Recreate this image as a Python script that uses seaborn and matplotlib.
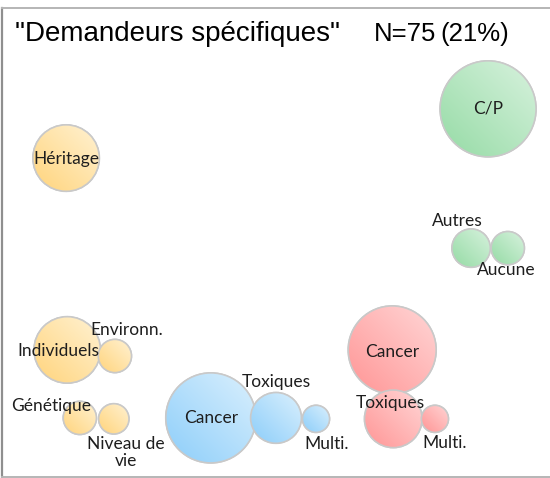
import numpy as np
import pandas as pd
import matplotlib
matplotlib.use("Agg")
import matplotlib.pyplot as plt
import seaborn as sns
from matplotlib.patches import Circle
from matplotlib.transforms import IdentityTransform
from matplotlib.colors import to_rgb

# ---------------- data ----------------
labels = ["C/P", "Autres", "Aucune",
          "Héritage", "Individuels", "Environn.", "Génétique", "Niveau de\nvie",
          "Cancer", "Toxiques", "Multi.",
          "Cancer", "Toxiques", "Multi."]
groups = ["vert"] * 3 + ["orange"] * 5 + ["bleu"] * 3 + ["rouge"] * 3
x_pos = [88.7, 85.6, 92.3,
         11.7, 11.9, 20.6, 14.2, 20.4,
         38.1, 50.0, 57.3,
         71.2, 71.4, 79.0]
y_pos = [78.5, 48.8, 48.8,
         68.0, 27.1, 25.8, 12.6, 12.4,
         12.6, 12.6, 12.4,
         27.1, 12.4, 12.4]
effectifs = [25, 4, 3,
             12, 12, 3, 3, 2.5,
             22, 7, 2,
             21, 9, 2]
title_left = '"Demandeurs spécifiques"'
title_n = "N=75"
title_pct = "(21%)"

# label offsets (pixels, relative to bubble centre)
label_dx = [0, -14, -2, 0, -9, 12, -29, 12, 0, 0, 11, 0, -3, 10]
label_dy = [0, 27, -22, -1, -1, 26, 12, -34, 0, 36, -25, -2, 16, -24]

# ---------------- style ----------------
palette = {"vert": "#b4e6bf", "orange": "#ffe1a3", "bleu": "#b3dffb", "rouge": "#ffb3b3"}
grad_dark = {"vert": "#95dba5", "orange": "#ffd47c", "bleu": "#8dcefa", "rouge": "#ff9595"}
grad_light = {"vert": "#d8f2de", "orange": "#fff2d3", "bleu": "#dbf0fd", "rouge": "#ffd6d6"}

W, H = 550, 478
fig = plt.figure(figsize=(W / 100, H / 100), dpi=100)
ax = fig.add_axes([2 / W, 1 / H, 548 / W, 469 / H])
ax.set_xlim(0, 100)
ax.set_ylim(0, 100)
ax.set_autoscale_on(False)

df = pd.DataFrame({"label": labels, "groupe": groups, "x": x_pos, "y": y_pos, "n": effectifs})

vmax = max(effectifs)
r_max_px = 48.0
smax = (2 * r_max_px * 72 / 100) ** 2

sns.scatterplot(data=df, x="x", y="y", hue="groupe", palette=palette,
                size="n", sizes=(0, smax), size_norm=(0, vmax),
                edgecolor="#c8c8c8", linewidth=1.0, legend=False, ax=ax, zorder=1)

ax.set_xlim(0, 100)
ax.set_ylim(0, 100)

coll = ax.collections[0]
offsets = coll.get_offsets()
sizes = coll.get_sizes()

# gradient fill over each bubble
N = 80
u = np.linspace(0, 1, N)
U, V = np.meshgrid(u, u)
T = (U + V) / 2
inv = ax.transData.inverted()
for i in range(len(df)):
    cx, cy = ax.transData.transform(offsets[i])
    s = sizes[i] if len(sizes) > 1 else sizes[0]
    r = np.sqrt(s) / 2 * fig.dpi / 72
    g = df["groupe"].iloc[i]
    d = np.array(to_rgb(grad_dark[g]))
    l = np.array(to_rgb(grad_light[g]))
    arr = d[None, None, :] * (1 - T[..., None]) + l[None, None, :] * T[..., None]
    (x0, y0) = inv.transform((cx - r, cy - r))
    (x1, y1) = inv.transform((cx + r, cy + r))
    im = ax.imshow(arr, extent=[x0, x1, y0, y1], origin="lower", aspect="auto",
                   interpolation="bilinear", zorder=2 + 2 * i)
    clip = Circle((cx, cy), r, transform=IdentityTransform())
    im.set_clip_path(clip)
    outline = Circle((cx, cy), r, transform=IdentityTransform(), facecolor="none",
                     edgecolor="#c9c9c9", linewidth=1.2, zorder=3 + 2 * i)
    ax.add_artist(outline)

ax.set_xlim(0, 100)
ax.set_ylim(0, 100)

for i, row in df.iterrows():
    ax.annotate(row["label"], xy=(row["x"], row["y"]), xytext=(label_dx[i], label_dy[i]),
                textcoords="offset pixels", ha="center", va="center",
                fontsize=12.5, family="Lato", color="#1e1e1e", zorder=100,
                linespacing=1.1)

ax.set_xticks([])
ax.set_yticks([])
ax.set_xlabel("")
ax.set_ylabel("")
ax.spines["right"].set_visible(False)
ax.spines["left"].set_color("#8f8f8f")
ax.spines["left"].set_linewidth(1.6)
for sp in ("top", "bottom"):
    ax.spines[sp].set_color("#b5b5b5")
    ax.spines[sp].set_linewidth(1.4)

base_y = 1 - 41 / H
fig.text(15 / W, base_y, title_left, fontsize=20, family="Liberation Sans",
         ha="left", va="baseline", color="#000000")
fig.text(374 / W, base_y, title_n, fontsize=18.5, family="Liberation Sans",
         ha="left", va="baseline", color="#000000")
fig.text(440 / W, base_y, title_pct, fontsize=18.5, family="Liberation Sans",
         ha="left", va="baseline", color="#000000")

fig.savefig("out.png", dpi=100)
